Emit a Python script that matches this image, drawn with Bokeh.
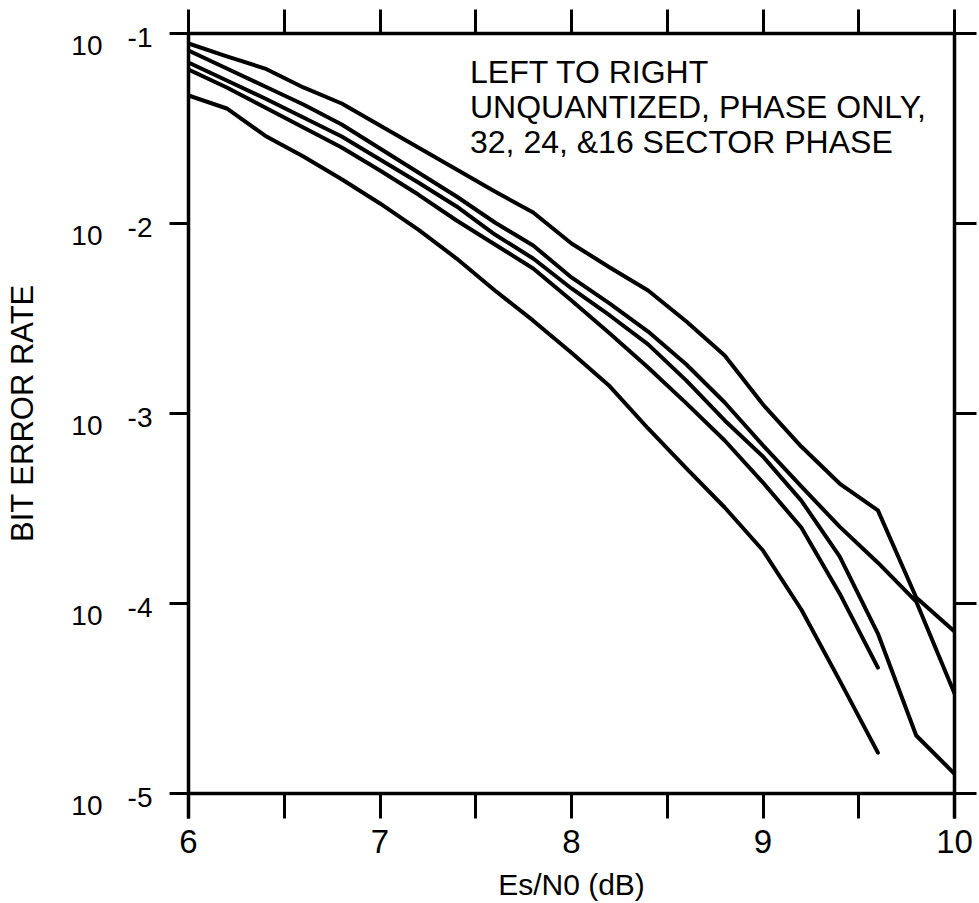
from bokeh.plotting import figure
from bokeh.models import (LinearAxis, LogAxis, FixedTicker, Label, Range1d,
                          LogScale, Span)
from bokeh.embed import file_html
from bokeh.resources import INLINE

FONT = "Liberation Sans"

# Es/N0 (dB) sample points
esn0_long = [6.0, 6.2, 6.4, 6.6, 6.8, 7.0, 7.2, 7.4, 7.6, 7.8, 8.0,
             8.2, 8.4, 8.6, 8.8, 9.0, 9.2, 9.4, 9.6, 9.8, 10.0]
esn0_short = [6.0, 6.2, 6.4, 6.6, 6.8, 7.0, 7.2, 7.4, 7.6, 7.8, 8.0,
              8.2, 8.4, 8.6, 8.8, 9.0, 9.2, 9.4, 9.6]

# Bit error rate, left to right
ber_unquantized = [0.0472, 0.0403, 0.0290, 0.0225, 0.0171, 0.01275, 0.00929,
                   0.00654, 0.00444, 0.00308, 0.00209, 0.00139, 0.000834,
                   0.000514, 0.000320, 0.000190, 9.3e-5, 3.94e-5, 1.64e-5]
ber_phase_only = [0.0646, 0.0520, 0.0408, 0.0320, 0.0251, 0.0190, 0.0142,
                  0.01037, 0.00775, 0.0058, 0.00393, 0.00264, 0.001746,
                  0.00113, 0.000721, 0.000433, 0.000251, 0.000113, 4.6e-5]
ber_32_sector = [0.0704, 0.0566, 0.0455, 0.0361, 0.0287, 0.0217, 0.01643,
                 0.01229, 0.00875, 0.00654, 0.00455, 0.00328, 0.00231,
                 0.00149, 0.000919, 0.000594, 0.000348, 0.000177, 6.95e-5,
                 2.02e-5, 1.27e-5]
ber_24_sector = [0.0814, 0.0654, 0.0526, 0.0423, 0.0332, 0.0248, 0.01855,
                 0.01387, 0.01012, 0.00766, 0.0052, 0.00379, 0.0027,
                 0.00181, 0.001143, 0.000679, 0.000413, 0.000254, 0.000164,
                 0.0001024, 3.36e-5]
ber_16_sector = [0.0886, 0.0757, 0.0654, 0.0520, 0.0428, 0.0328, 0.0251,
                 0.01925, 0.01474, 0.01143, 0.00785, 0.00587, 0.00444,
                 0.00305, 0.00202, 0.001115, 0.00067, 0.000428, 0.000309,
                 0.0001075, 7.12e-5]

x_ticks = [6, 6.5, 7, 7.5, 8, 8.5, 9, 9.5, 10]
x_tick_labels = ["6", " ", "7", " ", "8", " ", "9", " ", "10"]
y_decades = [1e-1, 1e-2, 1e-3, 1e-4, 1e-5]
y_base_labels = ["10", "10", "10", "10", "10"]
y_exponents = ["-1", "-2", "-3", "-4", "-5"]

y_title = "BIT ERROR RATE"
x_title = "Es/N0 (dB)"
note_lines = ["LEFT TO RIGHT", "UNQUANTIZED, PHASE ONLY,", "32, 24, &16 SECTOR PHASE"]

# ---- layout constants ----
Y_LO, Y_HI = 1e-5, 1e-1
PX_PER_DEC = 190.0
TICK_LEN = 25                           # x ticks hang 25 px below the 1e-5 line
FRAME_LO = Y_LO * 10 ** (-TICK_LEN / PX_PER_DEC)
FRAME_H = int(round(4 * PX_PER_DEC + TICK_LEN))
BASE_SHIFT = 10 ** (12 / PX_PER_DEC)   # "10" sits ~12 px below its tick
EXP_SHIFT = 10 ** (4 / PX_PER_DEC)     # exponent sits ~4 px below its tick

p = figure(frame_width=766, frame_height=FRAME_H,
           x_range=Range1d(6, 10), y_range=Range1d(FRAME_LO, Y_HI),
           y_axis_type="log", output_backend="svg", toolbar_location=None,
           min_border_left=188, min_border_top=33, min_border_right=22,
           min_border_bottom=78)
p.outline_line_color = None
p.grid.visible = False
p.background_fill_color = "white"
p.border_fill_color = "white"

p.extra_y_ranges = {"exp": Range1d(FRAME_LO * EXP_SHIFT, Y_HI * EXP_SHIFT),
                    "base": Range1d(FRAME_LO * BASE_SHIFT, Y_HI * BASE_SHIFT)}
p.extra_y_scales = {"exp": LogScale(), "base": LogScale()}

top_axis = LinearAxis()
right_axis = LogAxis()
exp_axis = LogAxis(y_range_name="exp")
base_axis = LogAxis(y_range_name="base")
p.add_layout(top_axis, "above")
p.add_layout(right_axis, "right")
p.add_layout(exp_axis, "left")
p.add_layout(base_axis, "left")

for ax in p.xaxis:
    ax.ticker = FixedTicker(ticks=x_ticks, minor_ticks=[])
for ax in p.yaxis:
    ax.ticker = FixedTicker(ticks=y_decades, minor_ticks=[])

for ax in p.axis:
    ax.axis_line_width = 3.5
    ax.axis_line_color = "black"
    ax.major_tick_line_width = 3
    ax.major_tick_line_color = "black"
    ax.major_tick_in = 0
    ax.minor_tick_out = 0
    ax.minor_tick_in = 0

# bottom axis: sits at the frame bottom, ticks reach up to the 1e-5 line
bottom = p.below[0]
bottom.axis_line_color = None
bottom.major_tick_out = 0
bottom.major_tick_in = TICK_LEN
bottom.major_label_overrides = dict(zip(x_ticks, x_tick_labels))
bottom.major_label_text_font = FONT
bottom.major_label_text_font_size = "33px"
bottom.major_label_text_color = "black"
bottom.major_label_standoff = 4
bottom.axis_label = x_title
bottom.axis_label_text_font = FONT
bottom.axis_label_text_font_size = "30px"
bottom.axis_label_text_font_style = "normal"
bottom.axis_label_text_color = "black"
bottom.axis_label_standoff = 5

# the x axis line itself at BER = 1e-5
p.add_layout(Span(location=Y_LO, dimension="width", line_color="black",
                  line_width=3.5))

top_axis.major_tick_out = 24
right_axis.major_tick_out = 22
left = p.left[0]
left.major_tick_out = 19
top_axis.major_label_overrides = {t: " " for t in x_ticks}
for ax in (right_axis, left):
    ax.major_label_overrides = {t: " " for t in y_decades}
for ax in (top_axis, right_axis, left):
    ax.major_label_text_font_size = "1px"
    ax.major_label_standoff = 0

# "10" and exponent label axes (no line / ticks)
for ax, labels, standoff in ((exp_axis, y_exponents, 14), (base_axis, y_base_labels, 22)):
    ax.axis_line_color = None
    ax.major_tick_line_color = None
    ax.major_tick_out = 0
    ax.major_label_overrides = dict(zip(y_decades, labels))
    ax.major_label_text_font = FONT
    ax.major_label_text_font_size = "28px"
    ax.major_label_text_color = "black"
    ax.major_label_standoff = standoff
    ax.major_label_orientation = "horizontal"

# y axis title; leading no-break spaces centre it on the 1e-1 .. 1e-5 span
base_axis.axis_label = "\u00a0\u00a0\u00a0" + y_title
base_axis.axis_label_text_font = FONT
base_axis.axis_label_text_font_size = "31px"
base_axis.axis_label_text_font_style = "normal"
base_axis.axis_label_text_color = "black"
base_axis.axis_label_standoff = 28

series = [(esn0_short, ber_unquantized), (esn0_short, ber_phase_only),
          (esn0_long, ber_32_sector), (esn0_long, ber_24_sector),
          (esn0_long, ber_16_sector)]
for xs, ys in series:
    p.line(xs, ys, line_width=4, line_color="black", line_join="round", line_cap="round")

for i, line in enumerate(note_lines):
    p.add_layout(Label(x=7.47, y=0.063, y_offset=-35 * i, text=line,
                       text_align="left", text_baseline="alphabetic",
                       text_font=FONT, text_font_size="32px", text_color="black"))

open("out.html", "w").write(file_html(p, INLINE))
